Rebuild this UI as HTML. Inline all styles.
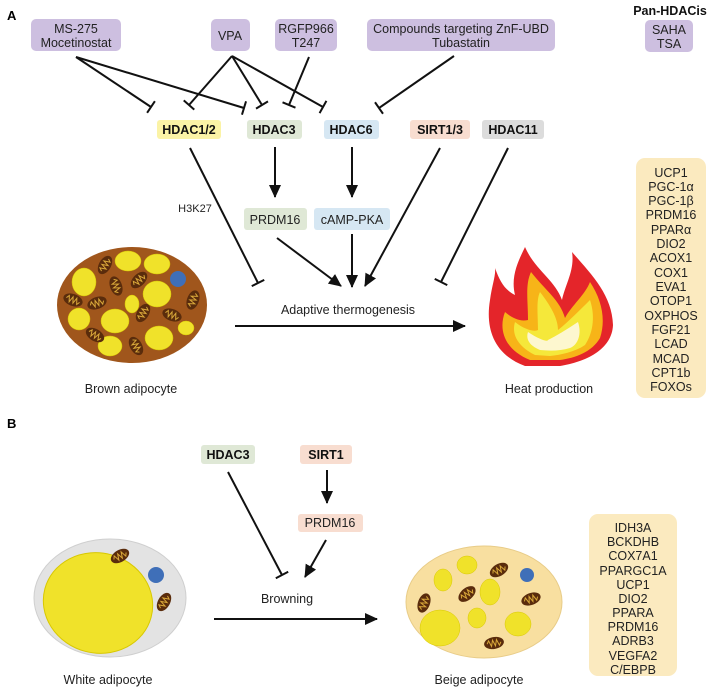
<!DOCTYPE html>
<html><head><meta charset="utf-8"><style>
body{margin:0;background:#fff;}
svg{display:block;font-family:"Liberation Sans",sans-serif;}
.t{font-size:12.5px;fill:#222;text-anchor:middle;}
.b{font-size:12.5px;font-weight:bold;fill:#111;text-anchor:middle;}
.l{stroke:#111;stroke-width:2;fill:none;}
</style></head><body>
<svg width="708" height="690" viewBox="0 0 708 690" xmlns="http://www.w3.org/2000/svg">
<defs>
<marker id="bar" markerWidth="4" markerHeight="16" refX="2" refY="8" orient="auto" markerUnits="userSpaceOnUse"><path d="M2,1 L2,15" stroke="#111" stroke-width="2"/></marker>
<marker id="arr" markerWidth="14" markerHeight="12" refX="12" refY="6" orient="auto" markerUnits="userSpaceOnUse"><path d="M0,0 L13,6 L0,12 z" fill="#111"/></marker>
<g id="mito"><ellipse cx="0" cy="0" rx="10" ry="6" fill="#5a2c0c"/><path d="M-7,0 l2,-3 l2,6 l2,-6 l2,6 l2,-6 l2,6 l2,-3" stroke="#d9a83a" stroke-width="1" fill="none"/></g>
</defs>
<text x="7" y="20" font-size="13" font-weight="bold">A</text>
<text x="7" y="428" font-size="13" font-weight="bold">B</text>
<!-- top boxes -->
<rect x="31" y="19" width="90" height="32" rx="5" fill="#cdbfe0"/>
<text class="t" x="76" y="33">MS-275</text><text class="t" x="76" y="47">Mocetinostat</text>
<rect x="211" y="19" width="39" height="32" rx="5" fill="#cdbfe0"/>
<text class="t" x="230" y="40">VPA</text>
<rect x="275" y="19" width="62" height="32" rx="5" fill="#cdbfe0"/>
<text class="t" x="306" y="33">RGFP966</text><text class="t" x="306" y="47">T247</text>
<rect x="367" y="19" width="188" height="32" rx="5" fill="#cdbfe0"/>
<text class="t" x="461" y="33">Compounds targeting ZnF-UBD</text><text class="t" x="461" y="47">Tubastatin</text>
<text class="b" x="670" y="15">Pan-HDACis</text>
<rect x="645" y="20" width="48" height="32" rx="5" fill="#cdbfe0"/>
<text class="t" x="669" y="34">SAHA</text><text class="t" x="669" y="48">TSA</text>
<!-- inhibitor lines -->
<line class="l" x1="76" y1="57" x2="151" y2="107" marker-end="url(#bar)"/>
<line class="l" x1="76" y1="57" x2="244" y2="108" marker-end="url(#bar)"/>
<line class="l" x1="232" y1="56" x2="189" y2="105" marker-end="url(#bar)"/>
<line class="l" x1="232" y1="56" x2="262" y2="105" marker-end="url(#bar)"/>
<line class="l" x1="232" y1="56" x2="323" y2="107" marker-end="url(#bar)"/>
<line class="l" x1="309" y1="57" x2="289" y2="105" marker-end="url(#bar)"/>
<line class="l" x1="454" y1="56" x2="379" y2="108" marker-end="url(#bar)"/>
<!-- HDAC row -->
<rect x="157" y="120" width="64" height="19" rx="3" fill="#fbf3a6"/><text class="b" x="189" y="134">HDAC1/2</text>
<rect x="247" y="120" width="55" height="19" rx="3" fill="#dfe8d6"/><text class="b" x="274" y="134">HDAC3</text>
<rect x="324" y="120" width="55" height="19" rx="3" fill="#d6e7f3"/><text class="b" x="351" y="134">HDAC6</text>
<rect x="410" y="120" width="60" height="19" rx="3" fill="#f8ddd0"/><text class="b" x="440" y="134">SIRT1/3</text>
<rect x="482" y="120" width="62" height="19" rx="3" fill="#dcdcdc"/><text class="b" x="513" y="134">HDAC11</text>
<line class="l" x1="275" y1="147" x2="275" y2="197" marker-end="url(#arr)"/>
<line class="l" x1="352" y1="147" x2="352" y2="197" marker-end="url(#arr)"/>
<rect x="244" y="208" width="63" height="22" rx="3" fill="#dfe8d6"/><text class="t" x="275" y="224">PRDM16</text>
<rect x="314" y="208" width="76" height="22" rx="3" fill="#d6e7f3"/><text class="t" x="352" y="224">cAMP-PKA</text>
<text x="195" y="212" font-size="11" fill="#222" text-anchor="middle">H3K27</text>
<line class="l" x1="190" y1="148" x2="258" y2="283" marker-end="url(#bar)"/>
<line class="l" x1="277" y1="238" x2="341" y2="286" marker-end="url(#arr)"/>
<line class="l" x1="352" y1="234" x2="352" y2="287" marker-end="url(#arr)"/>
<line class="l" x1="440" y1="148" x2="365" y2="286" marker-end="url(#arr)"/>
<line class="l" x1="508" y1="148" x2="441" y2="282" marker-end="url(#bar)"/>
<text class="t" x="348" y="314">Adaptive thermogenesis</text>
<line class="l" x1="235" y1="326" x2="465" y2="326" marker-end="url(#arr)"/>
<!-- brown adipocyte -->
<ellipse cx="132" cy="305" rx="75" ry="58" fill="#a0561c"/>
<g fill="#f0e22a" stroke="#d8c800" stroke-width="0.5">
<ellipse cx="128" cy="261" rx="13" ry="10"/><ellipse cx="157" cy="264" rx="13" ry="10"/>
<ellipse cx="84" cy="282" rx="12" ry="14"/><ellipse cx="157" cy="294" rx="14" ry="13"/>
<ellipse cx="132" cy="304" rx="7" ry="9"/><ellipse cx="79" cy="319" rx="11" ry="11"/>
<ellipse cx="115" cy="321" rx="14" ry="12"/><ellipse cx="159" cy="338" rx="14" ry="12"/>
<ellipse cx="110" cy="346" rx="12" ry="10"/><ellipse cx="186" cy="328" rx="8" ry="7"/>
</g>
<circle cx="178" cy="279" r="8" fill="#3f6fb8"/>
<use href="#mito" transform="translate(105,265) rotate(-60)"/>
<use href="#mito" transform="translate(139,280) rotate(-45)"/>
<use href="#mito" transform="translate(116,286) rotate(70)"/>
<use href="#mito" transform="translate(73,300) rotate(20)"/>
<use href="#mito" transform="translate(97,303) rotate(-20)"/>
<use href="#mito" transform="translate(143,313) rotate(-60)"/>
<use href="#mito" transform="translate(172,315) rotate(20)"/>
<use href="#mito" transform="translate(193,300) rotate(-70)"/>
<use href="#mito" transform="translate(95,335) rotate(30)"/>
<use href="#mito" transform="translate(136,346) rotate(60)"/>
<text class="t" x="131" y="393" font-size="13.5">Brown adipocyte</text>
<!-- flame -->
<path d="M525,366 C495,355 485,330 490,300 C492,285 496,275 495,268 C500,282 505,290 515,295 C510,275 520,258 525,247 C535,270 555,280 562,300 C565,285 575,270 572,252 C592,275 612,295 613,325 C612,350 585,362 560,366 Z" fill="#e4252a"/>
<path d="M530,360 C505,350 498,330 505,312 C512,318 520,322 528,320 C528,300 525,285 531,272 C545,290 560,300 565,318 C572,305 585,295 590,282 C602,300 606,320 600,338 C592,352 575,358 560,360 Z" fill="#f7b418"/>
<path d="M535,355 C515,345 512,332 515,322 C525,330 535,332 538,330 C538,315 536,300 540,292 C550,305 558,318 558,330 C568,322 580,310 590,300 C596,318 592,335 585,345 C575,352 560,355 550,356 Z" fill="#f5e83a"/>
<path d="M540,350 C528,345 526,338 528,332 C540,340 548,342 548,340 C556,336 566,330 578,322 C582,334 578,345 570,348 C560,351 550,351 540,350 Z" fill="#fdf7cf"/>
<text class="t" x="549" y="393" font-size="13.5">Heat production</text>
<!-- gene box A -->
<rect x="636" y="158" width="70" height="240" rx="9" fill="#fbeabf"/>
<g class="t">
<text class="t" x="671" y="177">UCP1</text><text class="t" x="671" y="191">PGC-1α</text><text class="t" x="671" y="205">PGC-1β</text><text class="t" x="671" y="219">PRDM16</text>
<text class="t" x="671" y="234">PPARα</text><text class="t" x="671" y="248">DIO2</text><text class="t" x="671" y="262">ACOX1</text><text class="t" x="671" y="277">COX1</text>
<text class="t" x="671" y="291">EVA1</text><text class="t" x="671" y="305">OTOP1</text><text class="t" x="671" y="320">OXPHOS</text><text class="t" x="671" y="334">FGF21</text>
<text class="t" x="671" y="348">LCAD</text><text class="t" x="671" y="363">MCAD</text><text class="t" x="671" y="377">CPT1b</text><text class="t" x="671" y="391">FOXOs</text>
</g>
<!-- Panel B -->
<rect x="201" y="445" width="54" height="19" rx="3" fill="#dfe8d6"/><text class="b" x="228" y="459">HDAC3</text>
<rect x="300" y="445" width="52" height="19" rx="3" fill="#f8ddd0"/><text class="b" x="326" y="459">SIRT1</text>
<line class="l" x1="327" y1="470" x2="327" y2="503" marker-end="url(#arr)"/>
<rect x="298" y="514" width="65" height="18" rx="3" fill="#f8ddd0"/><text class="t" x="330" y="527">PRDM16</text>
<line class="l" x1="228" y1="472" x2="282" y2="575" marker-end="url(#bar)"/>
<line class="l" x1="326" y1="540" x2="305" y2="577" marker-end="url(#arr)"/>
<text class="t" x="287" y="603">Browning</text>
<line class="l" x1="214" y1="619" x2="377" y2="619" marker-end="url(#arr)"/>
<!-- white adipocyte -->
<ellipse cx="110" cy="598" rx="76" ry="59" fill="#e3e3e3" stroke="#cfcfcf"/>
<ellipse cx="98" cy="603" rx="55" ry="50" transform="rotate(15 98 603)" fill="#f0e22a" stroke="#d8c800"/>
<circle cx="156" cy="575" r="8" fill="#3f6fb8"/>
<use href="#mito" transform="translate(120,556) rotate(-30)"/>
<use href="#mito" transform="translate(164,602) rotate(-60)"/>
<text class="t" x="108" y="684" font-size="13.5">White adipocyte</text>
<!-- beige -->
<ellipse cx="484" cy="602" rx="78" ry="56" fill="#f8dfa0" stroke="#e8cc88"/>
<g fill="#f0e22a" stroke="#d8c800" stroke-width="0.5">
<ellipse cx="467" cy="565" rx="10" ry="9"/><ellipse cx="443" cy="580" rx="9" ry="11"/>
<ellipse cx="490" cy="592" rx="10" ry="13"/><ellipse cx="477" cy="618" rx="9" ry="10"/>
<ellipse cx="440" cy="628" rx="20" ry="18"/><ellipse cx="518" cy="624" rx="13" ry="12"/>
</g>
<circle cx="527" cy="575" r="7" fill="#3f6fb8"/>
<use href="#mito" transform="translate(499,570) rotate(-30)"/>
<use href="#mito" transform="translate(467,594) rotate(-40)"/>
<use href="#mito" transform="translate(424,603) rotate(-70)"/>
<use href="#mito" transform="translate(531,599) rotate(-20)"/>
<use href="#mito" transform="translate(494,643) rotate(-10)"/>
<text class="t" x="479" y="684" font-size="13.5">Beige adipocyte</text>
<rect x="589" y="514" width="88" height="162" rx="9" fill="#fbeabf"/>
<text class="t" x="633" y="532">IDH3A</text><text class="t" x="633" y="546">BCKDHB</text><text class="t" x="633" y="560">COX7A1</text>
<text class="t" x="633" y="575">PPARGC1A</text><text class="t" x="633" y="589">UCP1</text><text class="t" x="633" y="603">DIO2</text>
<text class="t" x="633" y="617">PPARA</text><text class="t" x="633" y="631">PRDM16</text><text class="t" x="633" y="645">ADRB3</text>
<text class="t" x="633" y="660">VEGFA2</text><text class="t" x="633" y="674">C/EBPB</text>
</svg>
</body></html>
